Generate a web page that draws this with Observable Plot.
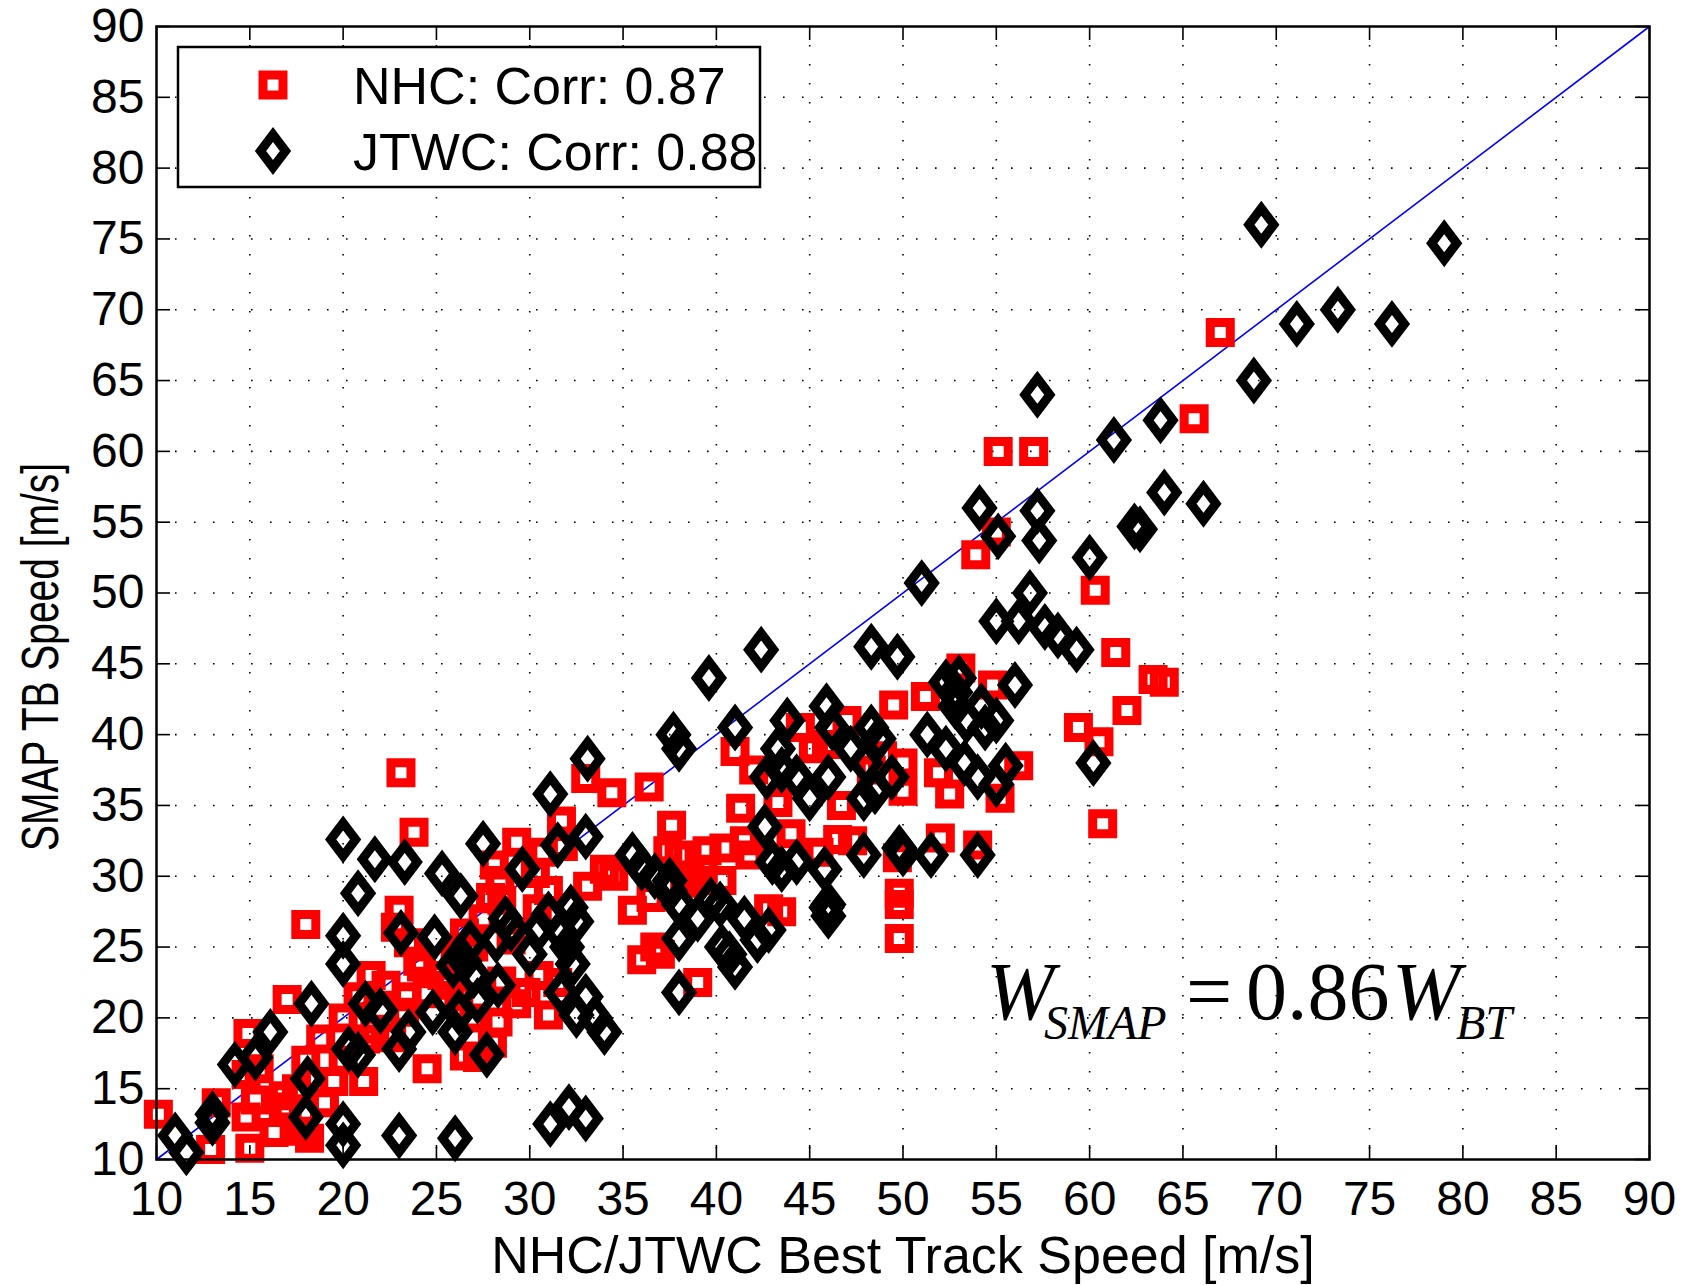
<!DOCTYPE html>
<html>
<head>
<meta charset="utf-8">
<script src="https://cdn.jsdelivr.net/npm/d3@7"></script>
<script src="https://cdn.jsdelivr.net/npm/@observablehq/plot@0.6"></script>
<style>
  body { margin: 0; background: #fff; }
  #chart { position: relative; width: 1687px; height: 1285px; }
  #chart svg { display: block; }
</style>
</head>
<body>
<div id="chart"></div>
<script>
// ---------------- data ----------------
const xTicks = [10, 15, 20, 25, 30, 35, 40, 45, 50, 55, 60, 65, 70, 75, 80, 85, 90];
const yTicks = [10, 15, 20, 25, 30, 35, 40, 45, 50, 55, 60, 65, 70, 75, 80, 85, 90];
const oneToOne = [10, 90];
const legendLabels = ["NHC: Corr: 0.87", "JTWC: Corr: 0.88"];
const xLabel = "NHC/JTWC Best Track Speed [m/s]";
const yLabel = "SMAP TB Speed [m/s]";

// [best-track speed, SMAP speed]
const nhcPoints = [
  [10.1,13.2],[13.2,14.0],[12.9,10.7],[14.8,13.0],[15.0,10.8],[14.9,18.9],[14.8,16.0],[15.3,14.2],[15.5,16.4],[16.3,11.9],
  [16.8,13.7],[16.8,14.5],[17.0,13.5],[17.5,15.0],[17.8,12.0],[18.2,11.5],[18.0,17.0],[17.0,21.3],[18.0,26.6],[18.8,18.5],
  [19.0,14.0],[19.5,15.5],[20.0,17.0],[20.0,20.0],[20.8,21.5],[21.1,15.5],[21.2,18.5],[21.5,23.0],[21.7,19.2],[22.3,22.3],
  [22.6,18.6],[22.8,26.4],[23.0,27.6],[23.1,37.3],[23.3,20.4],[23.4,21.5],[23.5,25.3],[23.8,33.1],[24.0,24.0],[24.2,23.6],
  [24.5,21.7],[24.5,16.4],[25.3,23.0],[25.7,22.3],[26.0,24.5],[26.2,21.5],[26.5,17.3],[26.5,26.0],[27.0,20.0],[27.0,25.0],
  [27.2,17.2],[27.5,27.0],[27.9,28.5],[28.0,18.2],[28.1,30.8],[28.3,19.7],[28.4,29.7],[28.5,22.6],[28.5,28.3],[29.0,25.5],
  [29.3,32.4],[29.3,21.0],[29.8,21.8],[31.0,20.2],[30.3,30.2],[30.4,27.7],[30.5,23.0],[30.7,31.7],[31.0,29.0],[31.5,22.5],
  [31.8,32.1],[31.7,33.9],[33.1,29.3],[33.0,36.9],[34.0,30.5],[34.5,30.0],[34.4,35.9],[35.5,27.6],[36.4,36.3],[36.0,24.1],
  [36.5,28.5],[36.7,25.0],[37.0,24.5],[37.4,31.8],[37.6,33.6],[38.0,31.5],[38.3,29.5],[38.6,30.0],[39.0,29.7],[39.3,30.5],
  [39.5,31.8],[39.0,22.5],[40.3,29.7],[40.4,32.0],[41.0,38.8],[41.3,34.8],[41.5,32.5],[41.8,31.5],[42.0,37.5],[42.8,27.7],
  [43.3,35.2],[43.5,27.5],[44.0,33.0],[44.5,40.5],[45.2,39.0],[45.5,31.7],[45.9,39.3],[46.5,32.6],[46.7,35.0],[47.0,41.0],
  [47.3,32.5],[48.3,37.5],[48.9,38.5],[49.7,31.3],[49.8,25.6],[49.8,28.0],[49.8,28.8],[50.0,36.0],[50.0,38.0],[49.5,42.1],
  [51.2,42.7],[52.0,32.7],[51.9,37.3],[52.5,35.8],[53.1,44.7],[53.9,52.7],[54.0,32.2],[54.8,43.5],[55.1,60.0],[55.2,35.5],
  [55.0,54.3],[56.2,37.8],[57.0,60.0],[59.4,40.5],[60.3,50.2],[60.5,39.5],[60.7,33.7],[61.4,45.8],[62.0,41.7],[63.4,43.9],
  [64.0,43.7],[65.6,62.3],[67.0,68.4]
];

const jtwcPoints = [
  [11.0,11.7],[11.6,10.5],[13.0,13.2],[13.0,12.6],[14.2,16.7],[15.3,17.2],[16.1,19.0],[18.1,15.7],[18.0,13.0],[18.3,21.0],
  [20.0,12.5],[20.0,11.0],[20.0,32.6],[20.0,25.8],[20.0,23.8],[20.3,17.8],[20.8,17.4],[20.8,28.8],[21.7,31.2],[21.2,21.0],
  [22.0,20.5],[23.3,31.0],[23.1,26.0],[23.0,11.7],[23.5,19.0],[23.0,17.8],[24.8,20.4],[24.9,25.7],[25.3,30.2],[25.9,23.7],
  [26.0,19.0],[26.0,11.5],[26.2,20.4],[26.3,28.6],[26.5,24.0],[26.8,25.3],[27.0,23.0],[27.2,21.2],[27.5,32.3],[27.7,17.4],
  [28.2,25.5],[28.3,22.3],[28.7,27.0],[29.0,26.3],[29.6,30.5],[30.0,24.5],[30.5,26.3],[31.0,27.3],[31.1,35.8],[31.1,12.5],
  [31.5,32.2],[31.7,26.0],[31.7,21.8],[32.0,25.0],[32.1,13.7],[32.2,27.8],[32.3,23.8],[32.5,26.8],[32.5,20.2],[33.0,12.9],
  [33.0,21.5],[33.0,32.8],[33.1,38.3],[33.5,20.0],[34.0,19.0],[35.5,31.5],[36.0,30.6],[36.7,30.0],[37.5,29.0],[37.5,29.7],
  [37.7,40.0],[38.0,39.0],[38.0,28.0],[38.0,25.6],[38.0,21.8],[39.0,27.0],[39.6,44.0],[39.7,28.3],[40.2,28.0],[40.3,25.0],
  [40.7,24.5],[41.0,23.6],[41.0,40.5],[41.5,27.0],[42.2,25.5],[42.4,46.0],[42.6,33.5],[42.7,37.0],[42.8,26.2],[43.0,31.0],
  [43.3,39.0],[43.5,37.5],[43.5,30.5],[43.8,41.0],[44.3,37.0],[44.3,31.0],[45.0,35.5],[45.8,30.5],[45.9,27.8],[45.9,42.0],
  [46.0,28.0],[46.0,27.2],[46.0,37.0],[46.2,40.5],[47.2,39.0],[47.9,35.5],[47.9,31.5],[48.0,38.0],[48.3,46.2],[48.3,40.5],
  [48.5,36.0],[48.7,39.7],[49.4,37.0],[49.7,45.5],[49.8,32.0],[50.0,31.6],[51.0,50.7],[51.3,40.0],[51.5,31.5],[52.3,43.7],
  [52.3,39.0],[52.8,43.0],[52.8,42.0],[53.0,44.0],[53.3,38.0],[53.4,41.0],[54.0,37.0],[54.0,31.5],[54.1,56.0],[54.2,42.0],
  [54.4,40.5],[55.0,41.0],[55.0,36.5],[55.0,48.0],[55.1,54.0],[55.5,37.8],[56.0,43.5],[56.2,48.0],[56.8,50.0],[57.2,64.0],
  [57.2,55.8],[57.3,53.7],[57.6,47.6],[58.3,47.0],[59.3,46.0],[60.0,52.5],[60.2,38.0],[61.3,60.8],[62.4,54.7],[62.7,54.5],
  [63.8,62.2],[64.0,57.1],[66.1,56.3],[68.8,65.0],[69.2,76.0],[71.1,69.0],[73.3,70.0],[76.2,69.0],[79.0,74.7]
];

// ---------------- styles ----------------
const W = 1687, H = 1285;
const margin = {left: 156, right: 38, top: 26, bottom: 126};
const innerW = W - margin.left - margin.right;
const innerH = H - margin.top - margin.bottom;
const tickLen = 14;
const dxUnit = 80 / innerW, dyUnit = 80 / innerH;
const sansFont = '"Liberation Sans", Arial, Helvetica, sans-serif';
const serifFont = '"Liberation Serif", "Times New Roman", serif';

const SQ = 10;
const DA = 12.5, DB = 16.5;
const squareSym = {draw(ctx) { ctx.moveTo(-SQ,-SQ); ctx.lineTo(SQ,-SQ); ctx.lineTo(SQ,SQ); ctx.lineTo(-SQ,SQ); ctx.closePath(); }};
const diamondSym = {draw(ctx) { ctx.moveTo(0,-DB); ctx.lineTo(DA,0); ctx.lineTo(0,DB); ctx.lineTo(-DA,0); ctx.closePath(); }};
const markerStroke = 9;

const grid = {stroke: "#000", strokeOpacity: 1, strokeWidth: 1.6, strokeDasharray: "1.6,17.4"};

const plot = Plot.plot({
  width: W, height: H,
  marginLeft: margin.left, marginRight: margin.right, marginTop: margin.top, marginBottom: margin.bottom,
  style: {fontFamily: sansFont, background: "#fff", overflow: "visible"},
  x: {domain: [10, 90], label: null},
  y: {domain: [10, 90], label: null},
  marks: [
    Plot.gridX(xTicks.slice(1, -1), grid),
    Plot.gridY(yTicks.slice(1, -1), grid),
    Plot.ruleX(xTicks, {x: d => d, y1: 10, y2: 10 + tickLen * dyUnit, stroke: "#000", strokeWidth: 1.6}),
    Plot.ruleX(xTicks, {x: d => d, y1: 90, y2: 90 - tickLen * dyUnit, stroke: "#000", strokeWidth: 1.6}),
    Plot.ruleY(yTicks, {y: d => d, x1: 10, x2: 10 + tickLen * dxUnit, stroke: "#000", strokeWidth: 1.6}),
    Plot.ruleY(yTicks, {y: d => d, x1: 90, x2: 90 - tickLen * dxUnit, stroke: "#000", strokeWidth: 1.6}),
    Plot.axisX(xTicks, {anchor: "bottom", tickSize: 0, tickPadding: 21, fontSize: 48, label: null, tickFormat: d => String(d)}),
    Plot.axisY(yTicks, {anchor: "left", tickSize: 0, tickPadding: 12, fontSize: 48, label: null, tickFormat: d => String(d)}),
    Plot.line(oneToOne, {x: d => d, y: d => d, stroke: "#0000ff", strokeWidth: 1.6}),
    Plot.dot(nhcPoints, {x: d => d[0], y: d => d[1], symbol: squareSym, r: 10, stroke: "#ff0000", fill: "none", strokeWidth: markerStroke, strokeLinejoin: "miter"}),
    Plot.dot(jtwcPoints, {x: d => d[0], y: d => d[1], symbol: diamondSym, r: 10, stroke: "#000", fill: "none", strokeWidth: markerStroke, strokeLinejoin: "miter"}),
    Plot.frame({stroke: "#000", strokeWidth: 2.5}),
    Plot.text([xLabel], {text: d => d, frameAnchor: "bottom", lineAnchor: "middle", textAnchor: "middle", dy: 97, fontSize: 52, fill: "#000"}),
    Plot.text([yLabel], {text: d => d, frameAnchor: "left", lineAnchor: "middle", textAnchor: "middle", dx: -115, dy: 64, rotate: -90, fontSize: 52, fill: "#000"})
  ]
});

document.getElementById("chart").appendChild(plot);

const svg = d3.select(plot);
// MATLAB renders the rotated y label condensed: squeeze it to the reference length
svg.selectAll("text").filter(function() { return this.textContent === yLabel; })
  .attr("textLength", 388).attr("lengthAdjust", "spacingAndGlyphs");

// ---------------- legend & equation annotation ----------------
const lg = svg.append("g").attr("transform", "translate(178,47)").attr("text-anchor", "start");
lg.append("rect").attr("width", 582).attr("height", 140).attr("fill", "#fff").attr("stroke", "#000").attr("stroke-width", 2.5);
const legendSyms = [
  {sym: squareSym, color: "#ff0000"},
  {sym: diamondSym, color: "#000"}
];
legendLabels.forEach((label, i) => {
  const cy = 38 + i * 66;
  const path = d3.path();
  legendSyms[i].sym.draw(path);
  lg.append("path").attr("d", path.toString()).attr("transform", `translate(95,${cy})`)
    .attr("fill", "none").attr("stroke", legendSyms[i].color).attr("stroke-width", markerStroke).attr("stroke-linejoin", "miter");
  lg.append("text").attr("x", 175).attr("y", cy).attr("dy", "0.36em").attr("text-anchor", "start")
    .attr("font-family", sansFont).attr("font-size", 52).attr("fill", "#000").text(label);
});

const eq = svg.append("text").attr("y", 1019).attr("text-anchor", "start")
  .attr("font-family", serifFont).attr("font-size", 82).attr("fill", "#000");
eq.append("tspan").attr("x", 986).attr("font-style", "italic").text("W");
eq.append("tspan").attr("x", 1044).attr("dy", 20).attr("font-style", "italic").attr("font-size", 48).text("SMAP");
eq.append("tspan").attr("x", 1186).attr("dy", -20).text("=");
eq.append("tspan").attr("x", 1246).text("0.86");
eq.append("tspan").attr("x", 1392).attr("font-style", "italic").text("W");
eq.append("tspan").attr("x", 1456).attr("dy", 20).attr("font-style", "italic").attr("font-size", 48).text("BT");
</script>
</body>
</html>
